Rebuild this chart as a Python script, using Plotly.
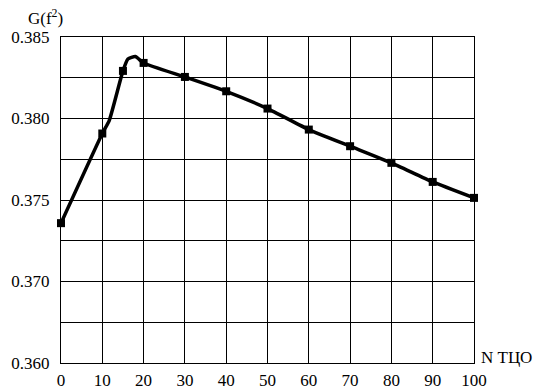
import plotly.graph_objects as go

# Measured points (markers)
n_tco = [0, 10, 15, 20, 30, 40, 50, 60, 70, 80, 90, 100]
g_vals = [0.37358, 0.37908, 0.38292, 0.38341, 0.38255, 0.38167,
          0.38061, 0.37932, 0.37830, 0.37728, 0.37611, 0.37513]

# Curve as drawn (includes the rounded peak)
curve_x = [0, 10, 11.7, 15, 16.2, 18, 20, 30, 40, 50, 60, 70, 80, 90, 100]
curve_y = [0.37358, 0.37908, 0.37989, 0.38292, 0.38365, 0.38380, 0.38341,
           0.38255, 0.38167, 0.38061, 0.37932, 0.37830, 0.37728, 0.37611, 0.37513]

x_ticks = [0, 10, 20, 30, 40, 50, 60, 70, 80, 90, 100]
y_tickvals = [0.385, 0.380, 0.375, 0.370, 0.365]
y_ticktext = ["0.385", "0.380", "0.375", "0.370", "0.360"]
y_grid = [0.365, 0.3675, 0.370, 0.3725, 0.375, 0.3775, 0.380, 0.3825, 0.385]

FONT = "Liberation Serif"

fig = go.Figure()
fig.add_trace(go.Scatter(x=curve_x, y=curve_y, mode="lines",
                         line=dict(color="black", width=3.5, shape="spline", smoothing=0.5),
                         cliponaxis=False, showlegend=False, hoverinfo="skip"))
fig.add_trace(go.Scatter(x=n_tco, y=g_vals, mode="markers",
                         marker=dict(symbol="square", size=8, color="black"),
                         cliponaxis=False, showlegend=False))

fig.update_layout(
    width=544, height=389,
    margin=dict(l=61, r=70, t=37, b=26),
    paper_bgcolor="white", plot_bgcolor="white",
    font=dict(family=FONT, size=17, color="black"),
    xaxis=dict(range=[0, 100], tickmode="array", tickvals=x_ticks,
               showgrid=True, gridcolor="black", gridwidth=1,
               showline=True, linecolor="black", linewidth=1, mirror=True,
               zeroline=False, ticks="", ticklabelstandoff=2, automargin=False,
               tickfont=dict(family=FONT, size=17, color="black")),
    yaxis=dict(range=[0.365, 0.385], tickmode="array",
               tickvals=y_tickvals, ticktext=y_ticktext,
               showgrid=False, automargin=False,
               minor=dict(tickmode="array", tickvals=y_grid, showgrid=True,
                          gridcolor="black", gridwidth=1, ticks=""),
               showline=True, linecolor="black", linewidth=1, mirror=True,
               zeroline=False, ticks="", ticklabelstandoff=7,
               tickfont=dict(family=FONT, size=17, color="black")),
    annotations=[
        dict(text="G(f<sup>2</sup>)", xref="paper", yref="paper",
             x=-0.085, y=1.06, xanchor="left", yanchor="middle",
             showarrow=False, font=dict(family=FONT, size=17, color="black")),
        dict(text="N ТЦО", xref="paper", yref="paper",
             x=1.013, y=0.018, xanchor="left", yanchor="middle",
             showarrow=False, font=dict(family=FONT, size=17, color="black")),
    ],
)

fig.write_html("out.html")
